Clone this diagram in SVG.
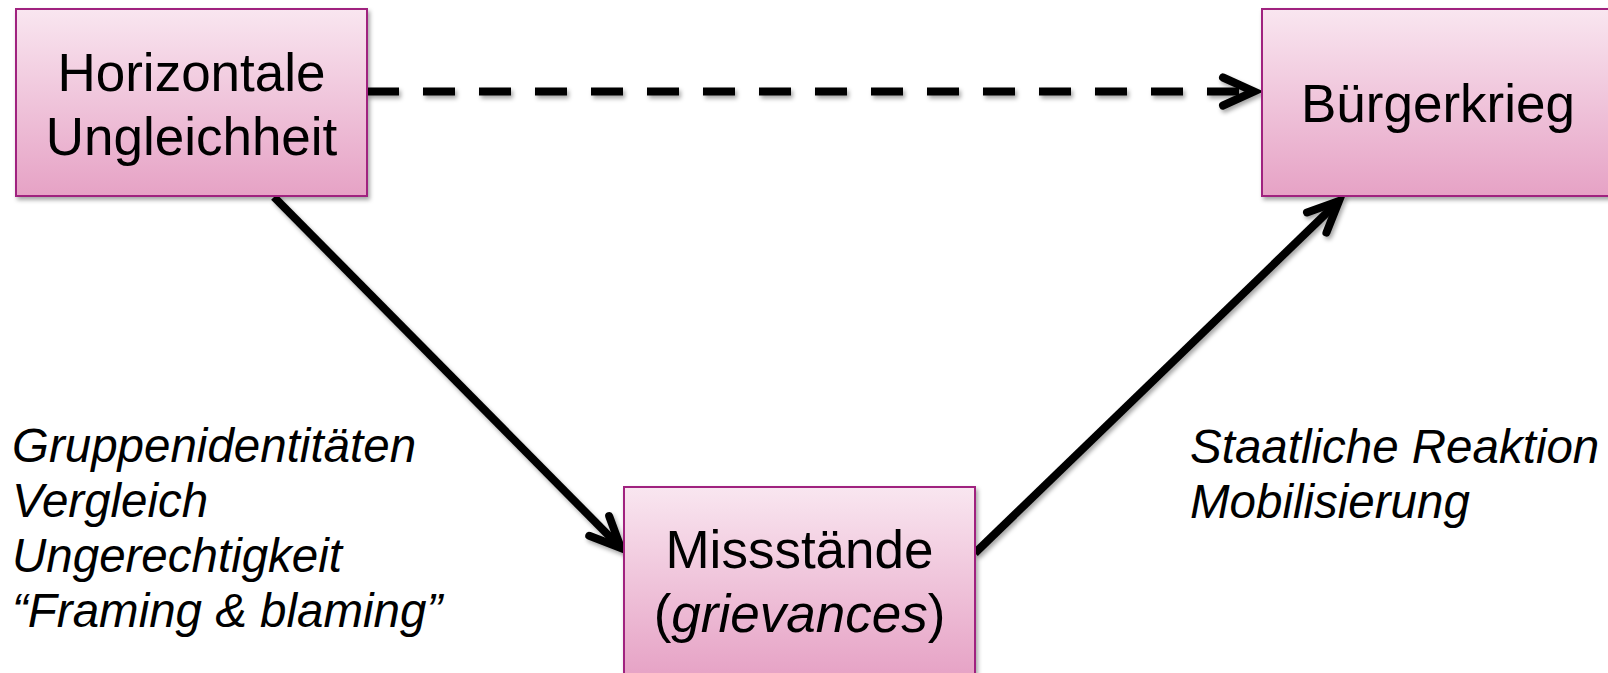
<svg xmlns="http://www.w3.org/2000/svg" width="1608" height="673" viewBox="0 0 1608 673">
  <defs>
    <linearGradient id="pink" x1="0" y1="0" x2="0" y2="1">
      <stop offset="0" stop-color="#F9E6F0"/>
      <stop offset="1" stop-color="#E6A2C5"/>
    </linearGradient>
    <filter id="shadow" x="-10%" y="-10%" width="130%" height="130%">
      <feDropShadow dx="2" dy="3" stdDeviation="2" flood-color="#000" flood-opacity="0.35"/>
    </filter>
    <filter id="lshadow" filterUnits="userSpaceOnUse" x="0" y="0" width="1608" height="673">
      <feDropShadow dx="2" dy="3" stdDeviation="2" flood-color="#000" flood-opacity="0.35"/>
    </filter>
    <marker id="chev" markerUnits="userSpaceOnUse" orient="auto" markerWidth="60" markerHeight="60" refX="0" refY="0" viewBox="-40 -30 60 60" overflow="visible">
      <path d="M -31 -14 L 0 0 L -31 14" fill="none" stroke="#000" stroke-width="8" stroke-linecap="round" stroke-linejoin="miter"/>
    </marker>
  </defs>
  <style>
    .box { fill: url(#pink); stroke: #A0207F; stroke-width: 2; filter: url(#shadow); }
    .node-text { font-family: "Liberation Sans", Arial, sans-serif; font-size: 53px; fill: #000; text-anchor: middle; }
    .label { font-family: "Liberation Sans", Arial, sans-serif; font-size: 47.5px; font-style: italic; fill: #000; }
    .conn { fill: none; stroke: #000; stroke-width: 8; }
  </style>
  <rect width="1608" height="673" fill="#fff"/>

  <g id="connectors" filter="url(#lshadow)">
    <line class="conn" x1="367" y1="91.5" x2="1254" y2="91.5" stroke-dasharray="32 24" marker-end="url(#chev)"/>
    <line class="conn" x1="274" y1="197" x2="621" y2="548" marker-end="url(#chev)"/>
    <line class="conn" x1="975" y1="553" x2="1339" y2="201" marker-end="url(#chev)"/>
  </g>

  <g id="node-horizontale-ungleichheit">
    <rect class="box" x="16" y="9" width="351" height="187"/>
    <text class="node-text" x="191.5" y="91">Horizontale</text>
    <text class="node-text" x="191.5" y="155">Ungleichheit</text>
  </g>

  <g id="node-buergerkrieg">
    <rect class="box" x="1262" y="9" width="360" height="187"/>
    <text class="node-text" x="1438" y="122">Bürgerkrieg</text>
  </g>

  <g id="node-missstaende">
    <rect class="box" x="624" y="487" width="351" height="190"/>
    <text class="node-text" x="799.5" y="568">Missstände</text>
    <text class="node-text" x="799.5" y="632">(<tspan font-style="italic">grievances</tspan>)</text>
  </g>

  <g id="label-left">
    <text class="label" x="12" y="462">Gruppenidentitäten</text>
    <text class="label" x="12" y="517">Vergleich</text>
    <text class="label" x="12" y="572">Ungerechtigkeit</text>
    <text class="label" x="12" y="627">“Framing &amp; blaming”</text>
  </g>

  <g id="label-right">
    <text class="label" x="1190" y="463">Staatliche Reaktion</text>
    <text class="label" x="1190" y="518">Mobilisierung</text>
  </g>
</svg>
